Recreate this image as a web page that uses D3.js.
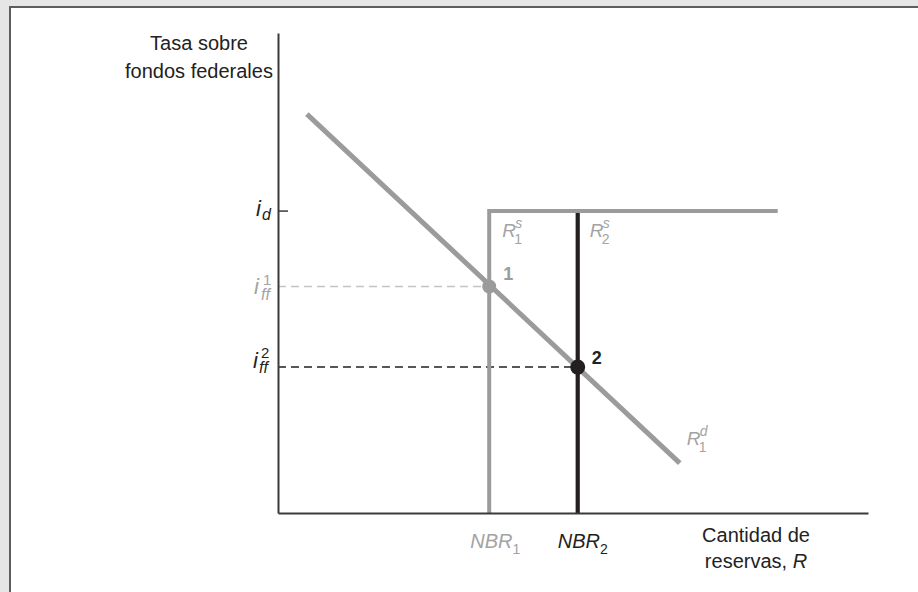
<!DOCTYPE html>
<html><head><meta charset="utf-8">
<script src="https://cdn.jsdelivr.net/npm/d3@7"></script>
<style>html,body{margin:0;padding:0;background:#e6e6e6;}svg{display:block;}</style>
</head><body>
<svg id="c" width="918" height="592"></svg>
<script>
// ---- data ----
const nbr = [35.8, 50.8];          // NBR1, NBR2 (x)
const iD = 62.9;                   // discount rate i_d (y)
const iff = [47.2, 30.4];          // i_ff^1, i_ff^2 (y)
const demandX = [4.9, 68.1];       // R1^d endpoints x
const demandY = [83.1, 10.4];      // R1^d endpoints y
const supplyEnd = 84.7;            // end of horizontal part of supply
const axisMax = [100, 100];
const yTitle = ["Tasa sobre", "fondos federales"];
const xTitle = ["Cantidad de", "reservas, "];

const GRAY = "#9b9b9b", LIGHT = "#c4c4c4", BLACK = "#231f20", AX = "#3a3a3a", LBL = "#a3a3a3";
const FONT = "Liberation Sans, Arial, Helvetica, sans-serif";

const svg = d3.select("#c");
svg.append("rect").attr("x",10).attr("y",7).attr("width",940).attr("height",620)
  .attr("fill","#fff").attr("stroke","#5e5e5e").attr("stroke-width",2);

const x = d3.scaleLinear().domain([0, axisMax[0]]).range([278, 868]);
const y = d3.scaleLinear().domain([0, axisMax[1]]).range([513, 33]);

const g = svg.append("g").attr("font-family", FONT);

// dashed guides
g.append("line").attr("x1",x(0)).attr("x2",x(nbr[0])).attr("y1",y(iff[0])).attr("y2",y(iff[0]))
  .attr("stroke",LIGHT).attr("stroke-width",1.5).attr("stroke-dasharray","8,5");
g.append("line").attr("x1",x(0)).attr("x2",x(nbr[1])).attr("y1",y(iff[1])).attr("y2",y(iff[1]))
  .attr("stroke",BLACK).attr("stroke-width",1.5).attr("stroke-dasharray","8,5");

// R2^s black vertical
g.append("line").attr("x1",x(nbr[1])).attr("x2",x(nbr[1])).attr("y1",y(0)).attr("y2",y(iD))
  .attr("stroke",BLACK).attr("stroke-width",4.2);

// R1^s gray supply
const line = d3.line().x(d=>x(d[0])).y(d=>y(d[1]));
g.append("path").attr("d", line([[nbr[0],0],[nbr[0],iD],[supplyEnd,iD]]))
  .attr("fill","none").attr("stroke",GRAY).attr("stroke-width",4).attr("stroke-linejoin","miter");

// demand
g.append("path").attr("d", line([[demandX[0],demandY[0]],[demandX[1],demandY[1]]]))
  .attr("fill","none").attr("stroke",GRAY).attr("stroke-width",5);

// axes
const xAxis = d3.axisBottom(x).tickValues([]).tickSizeOuter(0);
const yAxis = d3.axisLeft(y).tickValues([]).tickSizeOuter(0);
g.append("g").attr("transform",`translate(0,${y(0)})`).call(xAxis)
  .select(".domain").attr("stroke",AX).attr("stroke-width",2);
g.append("g").attr("transform",`translate(${x(0)},0)`).call(yAxis)
  .select(".domain").attr("stroke",AX).attr("stroke-width",2);
// i_d tick
g.append("line").attr("x1",x(0)).attr("x2",x(0)+10).attr("y1",y(iD)).attr("y2",y(iD))
  .attr("stroke",AX).attr("stroke-width",1.5);

// equilibrium points
g.append("circle").attr("cx",x(nbr[0])).attr("cy",y(iff[0])).attr("r",7).attr("fill",GRAY);
g.append("circle").attr("cx",x(nbr[1])).attr("cy",y(iff[1])).attr("r",7.5).attr("fill",BLACK);

function txt(xx, yy, s, o) {
  o = o || {};
  return g.append("text").attr("x",xx).attr("y",yy).text(s)
    .attr("font-size",o.size||20).attr("fill",o.fill||BLACK)
    .attr("font-style",o.italic?"italic":"normal")
    .attr("font-weight",o.bold?"bold":"normal")
    .attr("text-anchor",o.anchor||"start");
}
// base symbol with stacked superscript/subscript in ONE text element
function stacked(xx, yy, base, o) {
  const t = g.append("text").attr("x",xx).attr("y",yy).attr("fill",o.fill||BLACK)
    .attr("font-size",o.size);
  t.append("tspan").attr("font-style","italic").text(base);
  if (o.sup) t.append("tspan").attr("x",xx+o.supDx).attr("y",yy+o.supDy)
    .attr("font-size",o.supSize).attr("font-style",o.supItalic?"italic":"normal").text(o.sup);
  if (o.sub) t.append("tspan").attr("x",xx+o.subDx).attr("y",yy+o.subDy)
    .attr("font-size",o.subSize).attr("font-style",o.subItalic?"italic":"normal").text(o.sub);
  return t;
}

// axis titles
txt(199, 50, yTitle[0], {anchor:"middle", fill:"#222"});
txt(199, 78, yTitle[1], {anchor:"middle", fill:"#222"});
txt(756, 542, xTitle[0], {anchor:"middle", fill:"#222"});
const t2 = txt(756, 568, xTitle[1], {anchor:"middle", fill:"#222"});
t2.append("tspan").attr("font-style","italic").text("R");

// y labels
stacked(256, y(iD)+5, "i", {size:22, sub:"d", subDx:6, subDy:4, subSize:16, subItalic:true});
stacked(254, y(iff[0])+8, "i", {size:22, fill:LBL, sup:"1", supDx:9, supDy:-9, supSize:15,
  sub:"ff", subDx:7, subDy:6, subSize:16, subItalic:true});
stacked(253, y(iff[1])+1, "i", {size:22, sup:"2", supDx:8, supDy:-10, supSize:15,
  sub:"ff", subDx:6, subDy:5, subSize:16, subItalic:true});

// point labels
txt(x(nbr[0])+14, y(iff[0])-6, "1", {bold:true, size:18, fill:GRAY});
txt(x(nbr[1])+14, y(iff[1])-3, "2", {bold:true, size:18});

// curve labels
function rlab(xx, yy, sup, sub, fill) {
  stacked(xx, yy, "R", {size:19, fill, sup, supDx:13, supDy:-9, supSize:14, supItalic:true,
    sub, subDx:12, subDy:7, subSize:14});
}
rlab(x(nbr[0])+13, y(iD)+26, "s", "1", LBL);
rlab(x(nbr[1])+12, y(iD)+26, "s", "2", LBL);
rlab(x(demandX[1])+7, y(demandY[1])-18, "d", "1", LBL);

// NBR labels
function nbrLab(cx, s, fill) {
  const t = txt(cx-25, 548, "NBR", {italic:true, size:20, fill});
  t.append("tspan").attr("font-style","normal").attr("font-size",14).attr("dy",6).text(s);
}
nbrLab(x(nbr[0])+6, "1", LBL);
nbrLab(x(nbr[1])+5, "2", BLACK);
</script>
</body></html>
